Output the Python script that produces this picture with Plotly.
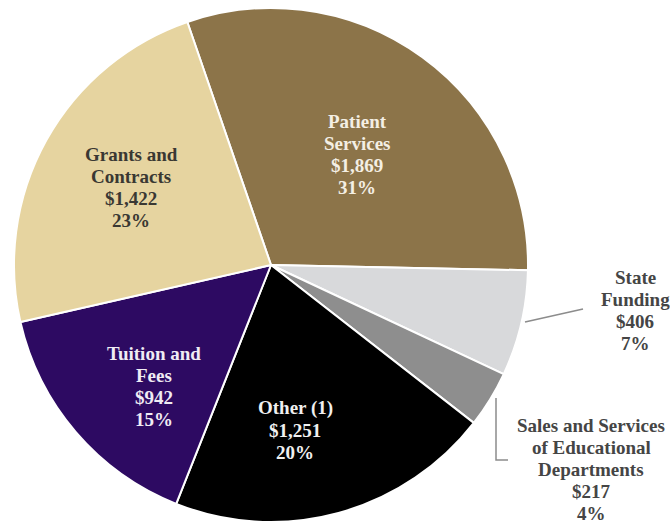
import plotly.graph_objects as go

# Revenue sources (in millions of dollars)
categories = ["Patient Services", "State Funding",
              "Sales and Services of Educational Departments",
              "Other (1)", "Tuition and Fees", "Grants and Contracts"]
values = [1869, 406, 217, 1251, 942, 1422]
label_lines = [["Patient", "Services"], ["State", "Funding"],
               ["Sales and Services", "of Educational", "Departments"],
               ["Other (1)"], ["Tuition and", "Fees"], ["Grants and", "Contracts"]]
colors = ["#8C7449", "#D8D9DB", "#8E8E8E", "#000000", "#2D0A62", "#E6D4A0"]
text_colors = ["#F4EFE4", "#454545", "#454545", "#F0F0F0", "#F0ECF4", "#3A3833"]

W, H = 670, 525
# label block anchors (pixel x, pixel y of first line) and line spacing
label_pos = [(357, 122), (635, 277), (591, 425), (295, 408), (154, 353), (131, 154)]
LINE_STEP = 22

total = sum(values)

fig = go.Figure(go.Pie(
    labels=categories,
    values=values,
    marker=dict(colors=colors, line=dict(color="white", width=2)),
    sort=False,
    direction="clockwise",
    rotation=-19,
    textinfo="none",
    hoverinfo="label+value+percent",
    domain=dict(x=[14 / W, 528 / W], y=[3 / H, 517 / H]),
    showlegend=False,
))

annotations = []
for lines, v, (px, py), tc in zip(label_lines, values, label_pos, text_colors):
    pct = round(100 * v / total)
    all_lines = lines + [f"${v:,}", f"{pct}%"]
    for i, t in enumerate(all_lines):
        annotations.append(dict(
            x=px / W, y=1 - (py + i * LINE_STEP) / H,
            xref="paper", yref="paper", xanchor="center", yanchor="middle",
            text=f"<b>{t}</b>", showarrow=False,
            font=dict(family="Liberation Serif", size=19, color=tc),
        ))

# leader lines for the two small slices
leader = dict(color="#8C8C8C", width=1.5)
shapes = [
    dict(type="path", xref="paper", yref="paper",
         path=f"M {525 / W} {1 - 322 / H} L {583 / W} {1 - 309 / H}", line=leader),
    dict(type="path", xref="paper", yref="paper",
         path=(f"M {496 / W} {1 - 398 / H} L {496 / W} {1 - 460 / H} "
               f"L {508 / W} {1 - 460 / H}"), line=leader),
]

fig.update_layout(
    width=W, height=H,
    margin=dict(l=0, r=0, t=0, b=0),
    paper_bgcolor="white", plot_bgcolor="white",
    annotations=annotations, shapes=shapes,
)

fig.write_html("out.html")
